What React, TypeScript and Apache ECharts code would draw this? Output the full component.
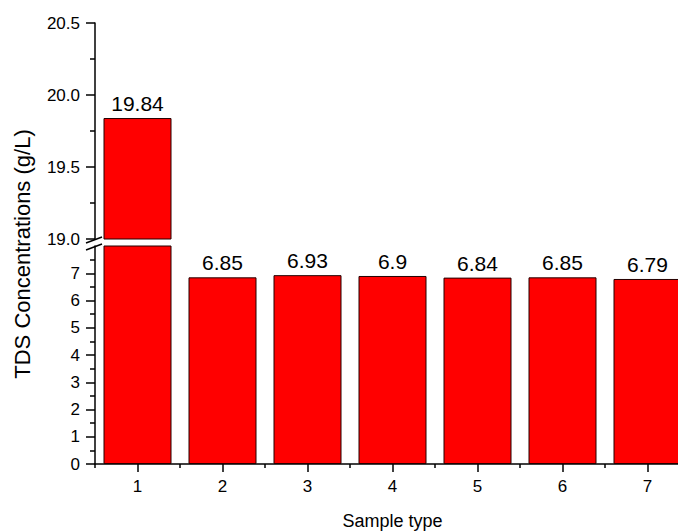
import React, { useEffect, useRef } from "react";
import * as echarts from "echarts";

const categories = ["1", "2", "3", "4", "5", "6", "7"];
const tdsValues = [19.84, 6.85, 6.93, 6.9, 6.84, 6.85, 6.79];
const upperRange = [19, 20.5];
const lowerRange = [0, 8];
const upperInterval = 0.5;
const lowerInterval = 1;
const lowerTickValues = [0, 1, 2, 3, 4, 5, 6, 7];

const FONT = "Liberation Sans, Arial, sans-serif";

export default function App() {
  const ref = useRef<HTMLDivElement>(null);
  useEffect(() => {
    if (!ref.current) return;
    const chart = echarts.init(ref.current, undefined, { renderer: "svg" });
    const gridLeft = 95;
    const gridWidth = 595;
    const upperGrid = { left: gridLeft, top: 23, width: gridWidth, height: 216 };
    const lowerGrid = { left: gridLeft, top: 246, width: gridWidth, height: 218 };
    const axisLine = { show: true, lineStyle: { color: "#000", width: 1.5 } };
    const labelStyle = { color: "#000", fontSize: 17, fontFamily: FONT };
    const barStyle = { color: "#ff0000", borderColor: "#220000", borderWidth: 1 };
    const barLabel = { show: true, position: "top", distance: 4, color: "#000", fontSize: 21, fontFamily: FONT };

    const option: any = {
      animation: false,
      textStyle: { fontFamily: FONT },
      grid: [upperGrid, lowerGrid, { ...lowerGrid }],
      xAxis: [
        { type: "category", gridIndex: 0, data: categories, show: false },
        {
          type: "category",
          gridIndex: 1,
          data: categories,
          axisLine,
          axisTick: { show: true, alignWithLabel: true, length: 8, lineStyle: { color: "#000", width: 1.5 } },
          axisLabel: { ...labelStyle, margin: 14 },
          name: "Sample type",
          nameLocation: "middle",
          nameGap: 48,
          nameTextStyle: { color: "#000", fontSize: 18, fontFamily: FONT },
        },
        {
          type: "category",
          gridIndex: 2,
          data: categories,
          axisLine: { show: false },
          axisTick: { show: true, length: 4, lineStyle: { color: "#000", width: 1.5 } },
          axisLabel: { show: false },
        },
      ],
      yAxis: [
        {
          type: "value",
          gridIndex: 0,
          min: upperRange[0],
          max: upperRange[1],
          interval: upperInterval,
          axisLine,
          axisTick: { show: true, length: 9, lineStyle: { color: "#000", width: 1.5 } },
          minorTick: { show: true, splitNumber: 2, length: 5, lineStyle: { color: "#000", width: 1.5 } },
          splitLine: { show: false },
          axisLabel: { ...labelStyle, margin: 15, formatter: (v: number) => v.toFixed(1) },
        },
        {
          type: "value",
          gridIndex: 1,
          min: lowerRange[0],
          max: lowerRange[1],
          interval: lowerInterval,
          axisLine,
          axisTick: { show: true, length: 9, customValues: lowerTickValues, lineStyle: { color: "#000", width: 1.5 } },
          minorTick: { show: true, splitNumber: 2, length: 5, lineStyle: { color: "#000", width: 1.5 } },
          splitLine: { show: false },
          axisLabel: { ...labelStyle, margin: 15, customValues: lowerTickValues },
        },
        { type: "value", gridIndex: 2, min: lowerRange[0], max: lowerRange[1], show: false },
      ],
      series: [
        {
          type: "bar",
          xAxisIndex: 0,
          yAxisIndex: 0,
          clip: true,
          barWidth: "80%",
          data: tdsValues.map((v) => (v > upperRange[0] ? v : "-")),
          itemStyle: barStyle,
          label: barLabel,
        },
        {
          type: "bar",
          xAxisIndex: 1,
          yAxisIndex: 1,
          clip: true,
          barWidth: "80%",
          data: tdsValues,
          itemStyle: barStyle,
          label: { ...barLabel, formatter: (p: any) => (p.value > lowerRange[1] ? "" : String(p.value)) },
        },
      ],
      graphic: [
        {
          type: "text",
          x: 22,
          y: 254,
          rotation: Math.PI / 2,
          style: {
            text: "TDS Concentrations (g/L)",
            fill: "#000",
            fontSize: 22,
            fontFamily: FONT,
            textAlign: "center",
            textVerticalAlign: "middle",
          },
        },
        { type: "line", shape: { x1: 86, y1: 243, x2: 102, y2: 237 }, style: { stroke: "#000", lineWidth: 1.5 } },
        { type: "line", shape: { x1: 86, y1: 250, x2: 102, y2: 244 }, style: { stroke: "#000", lineWidth: 1.5 } },
      ],
    };
    chart.setOption(option);
    return () => chart.dispose();
  }, []);
  return (
    <div style={{ width: 678, height: 531, position: "absolute", left: 0, top: 0, overflow: "hidden" }}>
      <div ref={ref} style={{ width: 720, height: 531 }} />
    </div>
  );
}
